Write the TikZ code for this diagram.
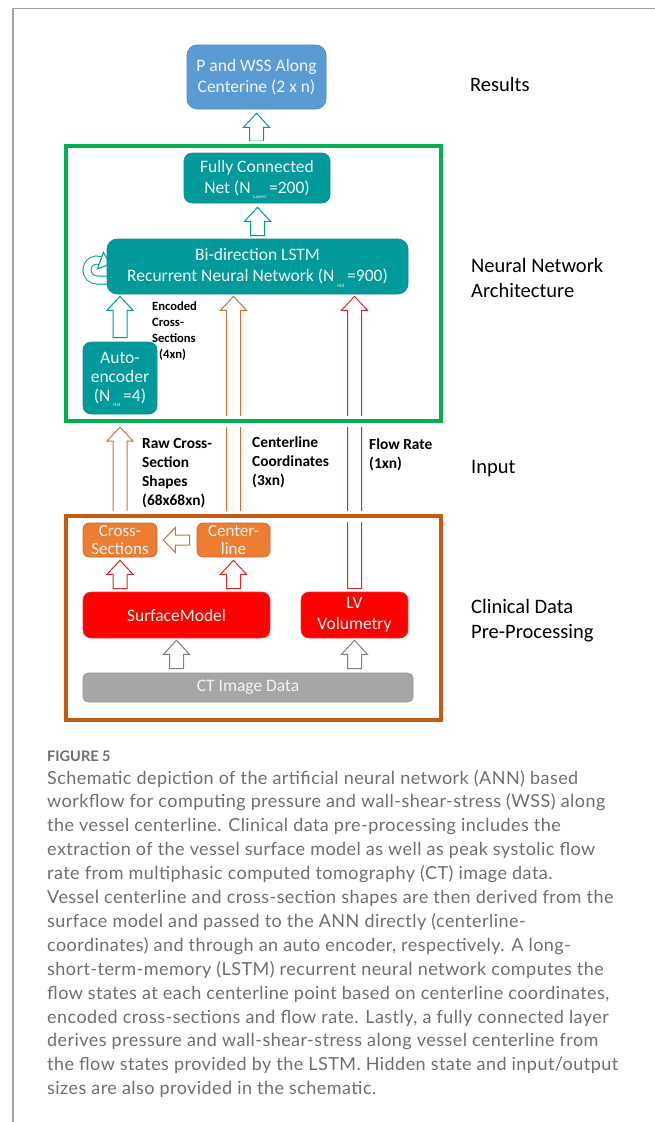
\documentclass[tikz,border=0pt]{standalone}
\usepackage{fontspec}
\setmainfont{Carlito}
\newfontfamily\capfont[LetterSpace=2.5]{Lato}
\newfontfamily\capboldfont{Lato}
\usetikzlibrary{calc,backgrounds}
\definecolor{tealc}{HTML}{009A9A}
\definecolor{tealb}{HTML}{0E8C8C}
\definecolor{bluec}{HTML}{5B9BD5}
\definecolor{blueb}{HTML}{4A86C0}
\definecolor{orangec}{HTML}{ED7D31}
\definecolor{orangeb}{HTML}{C8672A}
\definecolor{redc}{HTML}{FF0000}
\definecolor{redb}{HTML}{E23A3A}
\definecolor{grayc}{HTML}{A6A6A6}
\definecolor{grayb}{HTML}{939393}
\definecolor{greenc}{HTML}{00B050}
\definecolor{obox}{HTML}{C55A11}
\definecolor{brownar}{HTML}{C8733A}
\definecolor{redar}{HTML}{D92A2A}
\definecolor{grayar}{HTML}{7F7F7F}
\definecolor{boxtext}{HTML}{F4F4F4}
\definecolor{captext}{HTML}{6E6E6E}
\definecolor{framec}{HTML}{A3A3A3}
\newcommand\subunder[1]{\,\smash{\raisebox{-5.5pt}{\fontsize{5}{5}\selectfont #1}}\,}
\newcommand\barrowup[3]{%
  \draw[harrow,#3] let \p1=(#1), \p2=(#2) in
   ({\x1-7pt},\y1) -- ({\x1-7pt},{\y2-14pt}) -- ({\x1-13pt},{\y2-14pt}) -- (\x1,\y2)
   -- ({\x1+13pt},{\y2-14pt}) -- ({\x1+7pt},{\y2-14pt}) -- ({\x1+7pt},\y1) -- cycle;}
\newcommand\barrowleft[3]{%
  \draw[harrow,#3] let \p1=(#1), \p2=(#2) in
   (\x1,{\y1+5pt}) -- ({\x2+12pt},{\y1+5pt}) -- ({\x2+12pt},{\y1+12.5pt}) -- (\x2,\y1)
   -- ({\x2+12pt},{\y1-12.5pt}) -- ({\x2+12pt},{\y1-5pt}) -- (\x1,{\y1-5pt}) -- cycle;}
\begin{document}
\begin{tikzpicture}[x=1pt,y=-1pt,
  box/.style={rounded corners=8pt, align=center, text=boxtext, inner sep=0pt,
    line width=0.6pt, font=\fontsize{17.5}{21}\selectfont},
  tealbox/.style={box, fill=tealc, draw=tealb},
  bluebox/.style={box, fill=bluec, draw=blueb},
  orbox/.style={box, fill=orangec, draw=orangeb, rounded corners=6pt, font=\fontsize{17}{18}\selectfont},
  redbox/.style={box, fill=redc, draw=redb},
  graybox/.style={box, fill=grayc, draw=grayb, rounded corners=5pt},
  bigbox/.style={line width=4pt, inner sep=0pt, preaction={draw=white, line width=11pt}},
  harrow/.style={fill=white, line width=1pt, line join=miter},
  lbl/.style={font=\bfseries\fontsize{15.4}{19}\selectfont, align=left, inner sep=0pt, anchor=north west},
  smlbl/.style={font=\bfseries\fontsize{12.6}{16}\selectfont, align=left, inner sep=0pt, anchor=north west},
  side/.style={font=\fontsize{20.5}{25.5}\selectfont, align=left, inner sep=0pt, anchor=west},
  capline/.style={font=\capfont\fontsize{18}{24}\selectfont, text=captext, inner sep=0pt, anchor=base west},
  frame/.style={draw=framec, line width=1.2pt}
]
\useasboundingbox (0,0) rectangle (655,1122);
% frame
\coordinate (fr1) at (655,8.5);
\coordinate (fr0) at (13,8.5);
\coordinate (fr2) at (13,1122);
\draw[frame] (fr1) -- (fr0) -- (fr2);

% big group boxes
\node[bigbox, draw=greenc, minimum width=375pt, minimum height=275pt] (nn) at (253.5,283.5) {};
\node[bigbox, draw=obox, minimum width=375pt, minimum height=204pt] (pp) at (253.5,618) {};

% nodes
\node[bluebox, minimum width=139pt, minimum height=64pt, rounded corners=10pt] (res) at (256.5,77) {P and WSS Along\\Centerine (2 x n)};
\node[tealbox, minimum width=146pt, minimum height=50pt] (fcn) at (257,178) {Fully Connected\\Net (N\subunder{Layers}=200)};
\node[tealbox, minimum width=301pt, minimum height=55pt, rounded corners=10pt] (lstm) at (257.5,266.5) {Bi-direction LSTM\\Recurrent Neural Network (N\subunder{Hid}=900)};
\node[tealbox, minimum width=74pt, minimum height=72pt, font=\fontsize{17.5}{19}\selectfont] (ae) at (120,378) {Auto-\\encoder\\(N\subunder{Hid}=4)};
\node[orbox, minimum width=74pt, minimum height=34pt] (cs) at (120,540) {Cross-\\Sections};
\node[orbox, minimum width=73pt, minimum height=34pt] (cl) at (233.5,540) {Center-\\line};
\node[redbox, minimum width=187pt, minimum height=46pt] (sm) at (176.5,615) {SurfaceModel};
\node[redbox, minimum width=107pt, minimum height=46pt] (lv) at (354.5,615) {LV\\Volumetry};
\node[graybox, minimum width=330pt, minimum height=29pt] (ct) at (248,687.5) {CT Image Data};

% connectors (behind everything)
\begin{pgfonlayer}{background}
\barrowup{$(sm.south |- ct.north)+(0,-4)$}{$(sm.south)+(0,2)$}{draw=grayar}
\barrowup{$(lv.south |- ct.north)+(0,-4)$}{$(lv.south)+(0,2)$}{draw=grayar}
\barrowup{$(cs.north |- sm.north)+(0,-3)$}{$(cs.south)+(0,3)$}{draw=redar}
\barrowup{$(cl.north |- sm.north)+(0,-3)$}{$(cl.south)+(0,3)$}{draw=redar}
\barrowleft{$(cl.west)+(-7,0)$}{$(cs.east)+(6,0)$}{draw=brownar}
\barrowup{$(cs.north |- pp.north)+(0,-2)$}{$(cs.north |- nn.south)+(0,4)$}{draw=brownar}
\barrowup{$(cl.north)+(0,-1)$}{$(cl.north |- lstm.south)+(0,2)$}{draw=brownar}
\barrowup{$(lv.north)+(0,-3)$}{$(lv.north |- lstm.south)+(0,2)$}{draw=redar}
\barrowup{$(ae.north)+(0,-4)$}{$(ae.north |- lstm.south)+(0,2)$}{draw=tealc}
\barrowup{$(lstm.north)+(0,-3)$}{$(fcn.south)+(0,4)$}{draw=tealc}
\barrowup{$(res.south |- nn.north)+(0,-3)$}{$(res.south)+(0,4)$}{draw=tealc}
% recurrent loop icon
\coordinate (rl0) at ($(lstm.west)+(2,13.5)$);
\draw[tealc, line width=1pt, double=white, double distance=7pt]
  (rl0) -- (97,280) arc[start angle=90, end angle=290, radius=10];
\coordinate (rlb) at (100.4,260.6);
\draw[tealc, line width=1pt, fill=white, line join=miter]
  ($(rlb)+(-3,8.2)$) -- ($(rlb)+(9.8,3.6)$) -- ($(rlb)+(3,-8.2)$) -- cycle;
\end{pgfonlayer}

% labels
\node[smlbl] (enc) at (152,301) {Encoded\\Cross-\\Sections\\\hspace{7pt}(4xn)};
\node[lbl] (raw) at (142,438.5) {Raw Cross-\\Section\\Shapes\\(68x68xn)};
\node[lbl] (ccl) at (252,436.5) {Centerline\\Coordinates\\(3xn)};
\node[lbl] (flr) at (369,438) {Flow Rate\\(1xn)};

\node[side] (lres) at (470,84) {Results};
\node[side] (lnn) at (471,278) {Neural Network\\Architecture};
\node[side] (lin) at (471,469) {Input};
\node[side] (lcd) at (471,620.5) {Clinical Data\\Pre-Processing};

% caption
\node[font=\capboldfont\bfseries\fontsize{14.5}{16}\selectfont, text=captext, inner sep=0pt, anchor=base west] (fig) at (47,761) {FIGURE 5};
\foreach \t [count=\i] in {
 {Schematic depiction of the artificial neural network (ANN) based},
 {workflow for computing pressure and wall-shear-stress (WSS) along},
 {the vessel centerline. Clinical data pre-processing includes the},
 {extraction of the vessel surface model as well as peak systolic flow},
 {rate from multiphasic computed tomography (CT) image data.},
 {Vessel centerline and cross-section shapes are then derived from the},
 {surface model and passed to the ANN directly (centerline-},
 {coordinates) and through an auto encoder, respectively. A long-},
 {short-term-memory (LSTM) recurrent neural network computes the},
 {flow states at each centerline point based on centerline coordinates,},
 {encoded cross-sections and flow rate. Lastly, a fully connected layer},
 {derives pressure and wall-shear-stress along vessel centerline from},
 {the flow states provided by the LSTM. Hidden state and input/output},
 {sizes are also provided in the schematic.}}
 \node[capline] (cap\i) at (47,{784+23.9*(\i-1)}) {\t};
\end{tikzpicture}
\end{document}
